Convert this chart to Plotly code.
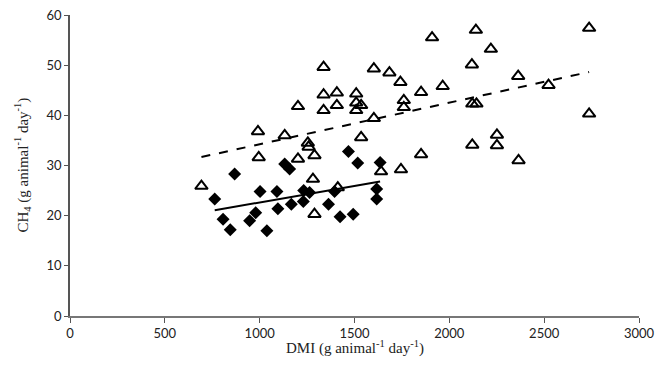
import numpy as np
import plotly.graph_objects as go

# Open triangles
tri_x = [693, 991, 995, 1132, 1202, 1202, 1254, 1258, 1281, 1289, 1289, 1337, 1337, 1337,
         1407, 1407, 1412, 1509, 1509, 1509, 1535, 1535, 1602, 1602, 1640, 1684, 1742, 1745,
         1760, 1760, 1851, 1851, 1909, 1965, 2119, 2121, 2121, 2143, 2140, 2219, 2251, 2251,
         2363, 2365, 2523, 2737, 2737]
tri_y = [25.9, 36.8, 31.6, 36.0, 41.8, 31.3, 34.5, 33.7, 27.3, 32.0, 20.3, 49.6, 44.1, 41.0,
         44.5, 42.0, 25.6, 44.3, 42.5, 41.0, 42.0, 35.6, 49.3, 39.4, 28.8, 48.5, 46.6, 29.2,
         43.0, 41.6, 44.6, 32.2, 55.5, 45.8, 50.1, 34.1, 42.3, 42.3, 57.0, 53.2, 36.1, 34.0,
         47.8, 31.0, 46.0, 57.4, 40.3]

# Filled diamonds
dia_x = [763, 807, 845, 868, 947, 979, 1002, 1038, 1091, 1096, 1132, 1158, 1167, 1230,
         1232, 1263, 1363, 1395, 1424, 1468, 1493, 1517, 1617, 1617, 1635]
dia_y = [23.3, 19.3, 17.2, 28.3, 19.0, 20.6, 24.8, 17.0, 24.8, 21.4, 30.3, 29.3, 22.3, 22.8,
         25.0, 24.6, 22.3, 24.8, 19.8, 32.8, 20.3, 30.5, 25.3, 23.3, 30.6]

x_ticks = [0, 500, 1000, 1500, 2000, 2500, 3000]
y_ticks = [0, 10, 20, 30, 40, 50, 60]

x_title = "DMI (g animal<sup>-1</sup> day<sup>-1</sup>)"
y_title = "CH<sub>4</sub> (g animal<sup>-1</sup> day<sup>-1</sup>)"


def trend(xs, ys):
    k, b = np.polyfit(xs, ys, 1)
    lx = np.array([min(xs), max(xs)], dtype=float)
    return lx, k * lx + b


fig = go.Figure()
tx, ty = trend(tri_x, tri_y)
dx, dy = trend(dia_x, dia_y)
fig.add_trace(go.Scatter(x=tx, y=ty, mode="lines",
                         line=dict(color="black", width=2, dash="dash"), hoverinfo="skip"))
fig.add_trace(go.Scatter(x=dx, y=dy, mode="lines",
                         line=dict(color="black", width=2), hoverinfo="skip"))
fig.add_trace(go.Scatter(x=tri_x, y=tri_y, mode="markers",
                         marker=dict(symbol="triangle-up-open", size=11, color="black",
                                     line=dict(width=2, color="black"))))
fig.add_trace(go.Scatter(x=dia_x, y=dia_y, mode="markers",
                         marker=dict(symbol="diamond", size=10, color="black")))

tick_font = dict(family="Lato, Open Sans, sans-serif", size=13, color="#222")
title_font = dict(family="Liberation Serif, Times New Roman, serif", size=15, color="#222")

fig.update_layout(
    width=662, height=372,
    margin=dict(l=62, r=31, t=7, b=64),
    plot_bgcolor="white", paper_bgcolor="white",
    showlegend=False,
    xaxis=dict(range=[0, 3000], tickvals=x_ticks, showgrid=False, zeroline=False,
               automargin=False, ticklabeloverflow="allow",
               showline=True, linecolor="#777", linewidth=1.5,
               ticks="outside", ticklen=5, tickcolor="#555", tickfont=tick_font),
    yaxis=dict(range=[0, 60], tickvals=y_ticks, showgrid=False, zeroline=False,
               automargin=False, ticklabeloverflow="allow",
               showline=True, linecolor="#555", linewidth=1.5,
               ticks="outside", ticklen=4, tickcolor="#555", tickfont=tick_font),
    annotations=[
        dict(text=x_title, xref="paper", yref="paper", x=0.5, y=0, yshift=-31,
             xanchor="center", yanchor="middle", showarrow=False, font=title_font),
        dict(text=y_title, xref="paper", yref="paper", x=0, y=0.5, xshift=-48,
             xanchor="center", yanchor="middle", textangle=-90, showarrow=False,
             font=title_font),
    ],
)

fig.write_html("out.html")
